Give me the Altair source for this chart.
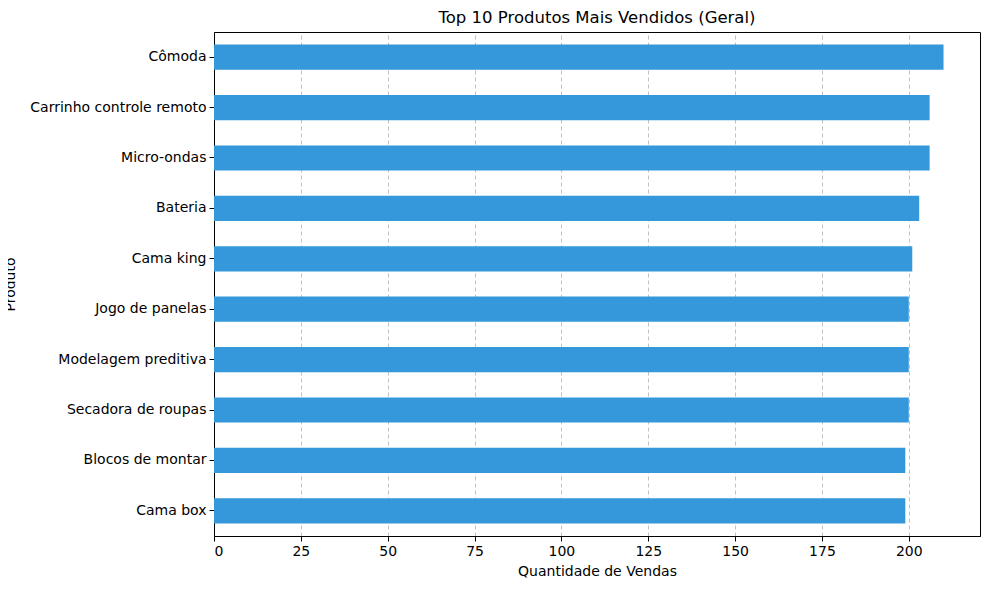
import altair as alt
import pandas as pd

produtos = ["Cômoda", "Carrinho controle remoto", "Micro-ondas", "Bateria", "Cama king",
            "Jogo de panelas", "Modelagem preditiva", "Secadora de roupas", "Blocos de montar", "Cama box"]
vendas = [210, 206, 206, 203, 201, 200, 200, 200, 199, 199]

data = pd.DataFrame({"Produto": produtos, "Vendas": vendas})

chart = alt.Chart(data).mark_bar(color="#3498db").encode(
    x=alt.X("Vendas:Q", title="Quantidade de Vendas",
            scale=alt.Scale(domain=[0, 220.5], nice=False),
            axis=alt.Axis(values=list(range(0, 201, 25)), grid=True, gridDash=[4, 3],
                          gridColor="#bbbbbb", gridOpacity=0.9, titlePadding=6)),
    y=alt.Y("Produto:N", title="Produto", sort=produtos,
            scale=alt.Scale(paddingInner=0.5, paddingOuter=0.25),
            axis=alt.Axis(grid=False, titlePadding=12)),
).properties(
    width=766, height=504,
    title="Top 10 Produtos Mais Vendidos (Geral)",
    autosize=alt.AutoSizeParams(type="none"),
    padding={"left": 206, "top": 24, "right": 1, "bottom": 46},
).configure_view(
    stroke="black", strokeWidth=1
).configure_axis(
    labelFont="DejaVu Sans", titleFont="DejaVu Sans", labelFontSize=14, titleFontSize=14,
    labelColor="black", titleColor="black", domainColor="black", tickColor="black",
    titleFontWeight="normal", tickSize=5, labelPadding=3,
).configure_title(
    font="DejaVu Sans", fontSize=16.5, fontWeight="normal", offset=6
)

chart.save("out.html", embed_options={"renderer": "svg", "actions": False})
